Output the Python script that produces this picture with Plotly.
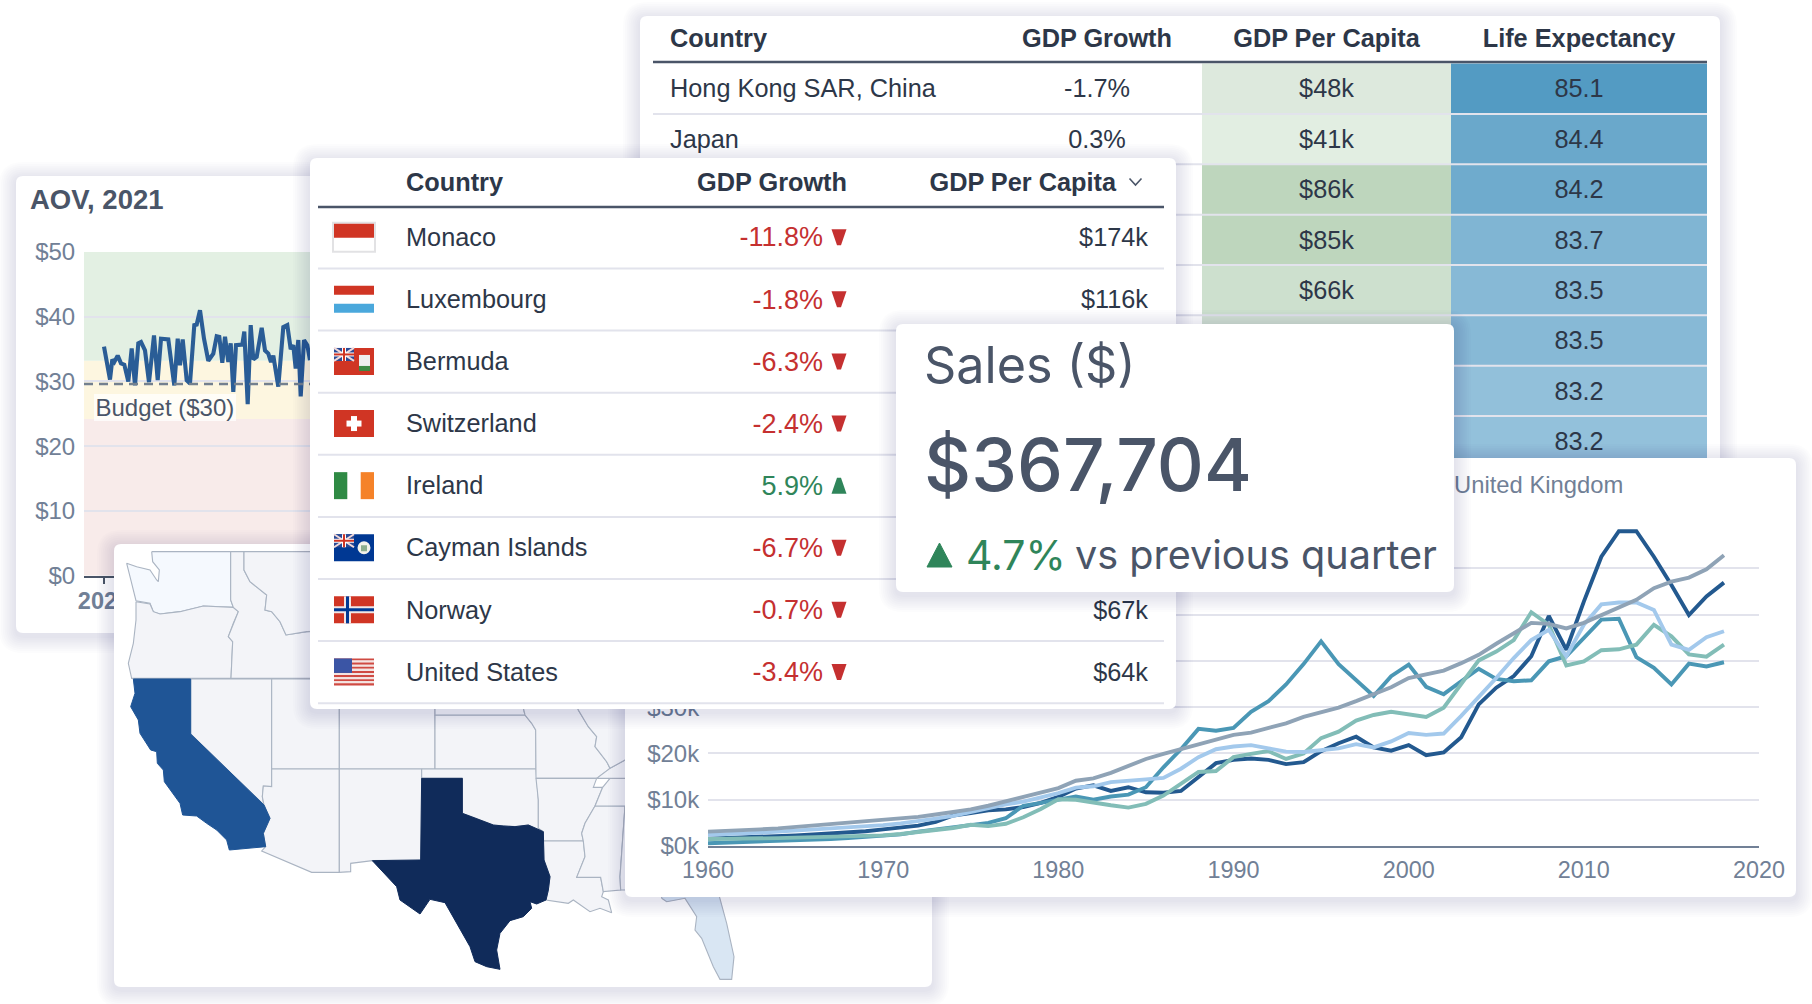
import plotly.graph_objects as go

W, H = 1812, 1004
SANS = "Liberation Sans"
INTER = "Inter"
INK = "#2d3748"
SLATE = "#4a5568"
MUTED = "#718096"
RULE = "#e2e3ec"
RED = "#c53030"
GREEN = "#2f855a"
TDY = 2.4
BODY = 25.3

# ---- AOV chart
aov_days = [0, 6, 8.3, 10.3, 13.7, 17, 20.3, 24.3, 27.7, 31, 34.3, 37, 41, 45, 50, 53.7, 57, 64.3, 70.3, 73.7, 76, 78.7,
            82.7, 86, 90.3, 92.7, 96, 100, 104.3, 109.3, 112.7, 115.3, 118.3, 121, 124.3, 126.7, 129.3, 132, 138.3,
            140.3, 143.7, 146.7, 149.3, 152.7, 157.7, 161, 164.3, 167, 169.3, 174.3, 179.3, 183.3, 186.7, 189.3,
            191.7, 194.3, 196.7, 200, 203.3, 206]
aov_values = [35.4, 30.3, 33.4, 33, 34, 32.8, 32.6, 30, 35.1, 29.4, 35.9, 36.1, 34.8, 29.9, 37.1, 30.2, 36.6, 36.5, 29.4,
              36.6, 32.5, 36.5, 30.2, 29.7, 38.7, 38.8, 41, 36.6, 33.2, 34.3, 37, 36.9, 32.9, 36.9, 33, 35.9, 28.4, 35.6,
              35.7, 37.7, 26.5, 38.7, 33.4, 33.8, 38.3, 34.8, 34.3, 33, 34, 29.2, 38.4, 38.7, 35, 35.6, 32, 36.4, 27.7,
              36.4, 35.6, 33.3]
aov_ticks = [0, 10, 20, 30, 40, 50]
aov_labels = ["$0", "$10", "$20", "$30", "$40", "$50"]
aov_budget_line = 29.6
aov_red_top = 24.2
aov_yellow_top = 33.2

# ---- Back table
back_names = ["Hong Kong SAR, China", "Japan"]
back_growth = ["-1.7%", "0.3%"]
back_capita = ["$48k", "$41k", "$86k", "$85k", "$66k", ""]
back_capita_fill = ["#dde9dd", "#e2eee2", "#bed6bd", "#bed6bd", "#cde0ce", "#d5e3d5"]
back_life = ["85.1", "84.4", "84.2", "83.7", "83.5", "83.5", "83.2", "83.2"]
back_life_fill = ["#539bc3", "#6aa8cb", "#6fabcd", "#80b5d3", "#87b9d6", "#87b9d6", "#92c0da", "#93c1db"]

# ---- Country table
countries = ["Monaco", "Luxembourg", "Bermuda", "Switzerland", "Ireland", "Cayman Islands", "Norway", "United States"]
growth = [-11.8, -1.8, -6.3, -2.4, 5.9, -6.7, -0.7, -3.4]
capita = ["$174k", "$116k", "", "", "", "", "$67k", "$64k"]

# ---- Line chart
years = list(range(1960, 2019))
s_dark = [1.6, 1.7, 1.9, 2.0, 2.2, 2.3, 2.5, 2.7, 2.9, 3.2, 3.6, 3.9, 4.4, 5.2, 6.6, 7.1, 7.7, 7.9, 8.4, 9.3, 10.6, 12.4,
          13.1, 11.9, 12.7, 11.6, 11.5, 11.9, 14.9, 17.9, 18.6, 18.9, 18.6, 17.7, 18.1, 20.5, 22.2, 23.6, 21.3, 20.6,
          21.8, 19.6, 20.2, 23.5, 30.6, 34.2, 36.7, 41, 49.7, 42.4, 52.8, 62.5, 68, 68, 62.5, 56.4, 49.9, 53.9, 56.9]
s_teal = [0.6, 0.7, 0.8, 0.9, 1.0, 1.1, 1.3, 1.5, 1.7, 1.9, 2.2, 2.5, 3.1, 3.6, 4.0, 4.6, 5.0, 6.0, 8.7, 9.3, 10, 10.7,
          10, 10.7, 11.1, 12.7, 17, 20.9, 25.3, 24.9, 25.5, 29, 31.3, 34.9, 39.3, 44.2, 39.3, 35.8, 32.4, 36.7, 39.2,
          34.4, 32.8, 35.6, 38.3, 36.1, 35.6, 35.8, 39.9, 41, 44.9, 48.9, 49.1, 40.8, 38.5, 34.9, 39.4, 38.8, 39.7]
s_sea = [1.5, 1.5, 1.6, 1.6, 1.7, 1.8, 1.9, 2, 2, 2.1, 2.3, 2.6, 3, 3.5, 3.9, 4.6, 4.3, 4.8, 6.2, 8, 10.1, 10, 9.3, 8.8,
         8.3, 9.1, 10.9, 13.4, 16, 16.2, 19.2, 19.9, 20.5, 18.8, 20, 23.3, 24.7, 27.1, 28.3, 29, 28.5, 27.9, 29.9, 34.9,
         40.1, 42, 44.5, 50.5, 47.8, 39, 39.9, 42.3, 42.5, 43.5, 47.8, 45.3, 41.4, 40.9, 43.5]
s_light = [2.4, 2.5, 2.7, 2.9, 3.1, 3.3, 3.6, 3.8, 4.0, 4.2, 4.5, 4.9, 5.3, 5.9, 6.5, 7.3, 8.3, 9.0, 9.6, 10.4, 11.4, 12.6,
           12.9, 13.8, 14.2, 14.4, 14.7, 16.7, 19.2, 20.9, 21.5, 21.8, 21.1, 20.4, 20.3, 20.8, 21.1, 22, 21.3, 22.6,
           24.4, 24, 24.3, 28.1, 32.1, 36.3, 40.6, 44.5, 46.7, 41, 47.8, 52.2, 52.6, 52.6, 51, 43.5, 42.4, 45.1, 46.4]
s_grey = [3.1, 3.2, 3.4, 3.6, 3.8, 4.1, 4.4, 4.6, 4.9, 5.2, 5.5, 5.8, 6.3, 6.8, 7.3, 7.9, 8.7, 9.6, 10.6, 11.6, 12.5, 14.1,
          14.6, 15.8, 17.2, 18.8, 19.9, 20.9, 22, 23, 24, 24.5, 25.6, 26.5, 27.9, 28.8, 29.9, 31.3, 32.8, 34.3, 36.3,
          37.2, 37.9, 39.5, 41.3, 43.7, 46, 48.2, 48, 47, 48.2, 49.9, 51.7, 53.2, 55.7, 57.1, 58, 59.8, 62.8]
line_series = [("Series A", s_dark, "#23598f"), ("Series B", s_teal, "#4a97b5"), ("Series C", s_sea, "#82bdb7"),
               ("Series D", s_light, "#a3c9ec"), ("United Kingdom", s_grey, "#8fa3b6")]
gdp_ticks = [0, 10, 20, 30, 40, 50, 60, 70]
gdp_labels = ["$0k", "$10k", "$20k", "$30k", "$40k", "$50k", "$60k", "$70k"]
gdp_year_ticks = [1960, 1970, 1980, 1990, 2000, 2010, 2020]

# ---- Map outlines
map_west = {
    "Washington": [(155, 65), (392, 65), (392, 210), (400, 232), (310, 228), (240, 245), (180, 252), (160, 245), (150, 220),
                   (120, 215), (108, 212), (90, 140), (80, 100), (110, 110), (150, 120), (170, 150), (175, 155), (178, 120),
                   (158, 95)],
    "Oregon": [(108, 215), (150, 222), (160, 245), (180, 252), (240, 245), (310, 228), (400, 232), (415, 245), (400, 280),
               (385, 320), (398, 335), (393, 445), (95, 445), (85, 400), (100, 340), (108, 270)],
    "Idaho": [(392, 65), (432, 65), (432, 120), (450, 155), (500, 195), (495, 240), (515, 245), (540, 275), (558, 315),
              (620, 305), (700, 300), (700, 445), (393, 445), (398, 335), (385, 320), (400, 280), (415, 245), (400, 232),
              (392, 210)],
    "Montana": [(432, 65), (780, 65), (780, 300), (620, 305), (558, 315), (540, 275), (515, 245), (495, 240), (500, 195),
                (450, 155), (432, 120)],
    "Nevada": [(272, 447), (515, 447), (515, 770), (490, 768), (487, 800), (492, 825), (272, 612)],
    "Utah": [(515, 447), (718, 447), (718, 717), (515, 717)],
    "Arizona": [(515, 717), (718, 717), (718, 1027), (635, 1027), (485, 963), (497, 950), (490, 910), (510, 865), (492, 825),
                (487, 800), (490, 768), (515, 770)],
}
map_california = [(100, 447), (272, 447), (272, 612), (492, 825), (510, 865), (490, 910), (497, 950), (388, 960), (380, 930),
                  (350, 900), (320, 880), (290, 858), (248, 855), (240, 820), (193, 755), (190, 720), (172, 700), (170, 665),
                  (152, 660), (120, 610), (115, 570), (92, 530), (105, 490)]
map_south = {
    "Colorado": [(28, -60), (315, -60), (315, 207), (28, 207)],
    "NewMexico": [(28, 207), (275, 207), (273, 480), (127, 482), (62, 490), (62, 515), (28, 517)],
    "Kansas": [(315, 45), (585, 45), (605, 70), (617, 90), (618, 207), (315, 207)],
    "Nebraska": [(315, -60), (560, -60), (585, 45), (315, 45)],
    "Oklahoma": [(275, 207), (618, 207), (625, 300), (625, 385), (640, 395), (595, 375), (555, 380), (520, 378), (490, 375),
                 (430, 352), (397, 340), (397, 235), (275, 235)],
    "Missouri": [(560, -60), (720, -60), (745, 30), (775, 80), (800, 110), (795, 140), (830, 185), (840, 205), (800, 235),
                 (618, 235), (617, 90), (605, 70), (585, 45)],
    "Arkansas": [(618, 235), (800, 235), (790, 262), (818, 262), (795, 318), (765, 370), (755, 400), (760, 423), (640, 423),
                 (640, 395), (625, 385), (625, 300)],
    "Louisiana": [(640, 423), (760, 423), (765, 470), (740, 532), (812, 532), (820, 575), (815, 590), (835, 600), (845, 638),
                  (810, 625), (780, 635), (730, 600), (715, 610), (660, 600), (648, 600), (655, 570), (660, 530), (642, 480)],
    "Mississippi": [(795, 318), (885, 318), (870, 530), (872, 570), (820, 575), (812, 532), (740, 532), (765, 470), (760, 423),
                    (755, 400), (765, 370)],
    "Tennessee": [(840, 235), (950, 235), (950, 318), (795, 318), (818, 262)],
    "Kentucky": [(840, 205), (885, 180), (950, 150), (950, 235), (800, 235)],
    "Illinois": [(720, -60), (950, -60), (950, 150), (885, 180), (840, 205), (830, 185), (795, 140), (800, 110), (775, 80),
                 (745, 30)],
    "Alabama": [(885, 318), (950, 318), (950, 570), (872, 570), (870, 530)],
}
map_texas = [(275, 235), (397, 235), (397, 340), (430, 352), (490, 375), (520, 378), (555, 380), (595, 375), (640, 395),
             (642, 480), (660, 530), (655, 570), (648, 600), (620, 612), (600, 605), (605, 625), (580, 650), (540, 662),
             (530, 675), (510, 700), (500, 750), (510, 808), (470, 800), (435, 785), (420, 740), (395, 695), (370, 650),
             (345, 608), (300, 598), (270, 642), (210, 600), (200, 560), (127, 482), (272, 480)]
map_florida = [(995, 595), (1010, 605), (1065, 595), (1100, 650), (1095, 690), (1115, 715), (1150, 800), (1170, 838),
               (1205, 838), (1212, 770), (1190, 670), (1160, 560), (995, 560)]

fig = go.Figure()
shapes = []


def rounded(L, T, R, B, r):
    return (f"M {L+r} {T} L {R-r} {T} Q {R} {T} {R} {T+r} L {R} {B-r} Q {R} {B} {R-r} {B} "
            f"L {L+r} {B} Q {L} {B} {L} {B-r} L {L} {T+r} Q {L} {T} {L+r} {T} Z")


layout_axes = {}


def axkey(prefix, n):
    return f"{prefix}axis{'' if n == 1 else n}"


def ref(prefix, n):
    return f"{prefix}{'' if n == 1 else n}"


def panel(n, L, T, R, B, pad=24, r=7):
    l0, t0, r0, b0 = max(0, L - pad), max(0, T - pad), min(W, R + pad), min(H, B + pad)
    layout_axes[axkey("x", n)] = dict(domain=[l0 / W, r0 / W], range=[l0, r0], visible=False, fixedrange=True,
                                      anchor=ref("y", n), automargin=False)
    layout_axes[axkey("y", n)] = dict(domain=[1 - b0 / H, 1 - t0 / H], range=[b0, t0], visible=False, fixedrange=True,
                                      anchor=ref("x", n), automargin=False)
    xr, yr = ref("x", n), ref("y", n)
    steps = 9
    for i in range(steps):
        e = (steps - i) * 1.9
        shapes.append(dict(type="path", path=rounded(L - e, T - e + 3, R + e, B + e + 3, r + e), xref=xr, yref=yr,
                           layer="below", fillcolor="rgba(20,30,50,0.013)", line_width=0))
    shapes.append(dict(type="path", path=rounded(L, T, R, B, r), xref=xr, yref=yr, layer="below",
                       fillcolor="white", line_width=0))


def rect(n, x0, y0, x1, y1, color):
    shapes.append(dict(type="rect", x0=x0, y0=y0, x1=x1, y1=y1, xref=ref("x", n), yref=ref("y", n), layer="below",
                       fillcolor=color, line_width=0))


def hline(n, x0, x1, y, color=RULE, w=2):
    shapes.append(dict(type="line", x0=x0, x1=x1, y0=y, y1=y, xref=ref("x", n), yref=ref("y", n), layer="below",
                       line=dict(color=color, width=w)))


def seg(n, x0, y0, x1, y1, color, w):
    shapes.append(dict(type="line", x0=x0, x1=x1, y0=y0, y1=y1, xref=ref("x", n), yref=ref("y", n), layer="below",
                       line=dict(color=color, width=w)))


def txt(n, xs, ys, texts, size, color, pos="middle right", weight=None, family=SANS):
    font = dict(size=size, color=color, family=family)
    if weight:
        font["weight"] = weight
    fig.add_trace(go.Scatter(x=xs, y=ys, text=texts, mode="text", textposition=pos, textfont=font,
                             xaxis=ref("x", n), yaxis=ref("y", n), hoverinfo="skip", showlegend=False,
                             cliponaxis=False))


# ---------- 1/2: AOV
panel(1, 16, 176, 360, 633)
txt(1, [30], [202.5], ["AOV, 2021"], 27.5, SLATE, weight="bold")
AOV_LEFT, AOV_RIGHT, AOV_TOP, AOV_BOTTOM = 84, 640, 252, 575.7
layout_axes["xaxis2"] = dict(domain=[AOV_LEFT / W, AOV_RIGHT / W], range=[-20, 536], anchor="y2", tickvals=[0],
                             ticktext=["<b>2021</b>"], ticks="outside", ticklen=6, tickwidth=1.5, tickcolor=SLATE,
                             showgrid=False, zeroline=False, showline=True, linecolor=SLATE, linewidth=2, ticklabelstandoff=-3,
                             tickfont=dict(size=23.5, color=MUTED, family=SANS), fixedrange=True, automargin=False)
layout_axes["yaxis2"] = dict(domain=[1 - AOV_BOTTOM / H, 1 - AOV_TOP / H], range=[0, 50], anchor="x2", tickvals=aov_ticks,
                             ticktext=aov_labels, ticks="outside", ticklen=3, tickcolor="rgba(0,0,0,0)", gridcolor=RULE,
                             gridwidth=2, zeroline=False, showline=False, automargin=False,
                             tickfont=dict(size=24, color=MUTED, family=SANS), fixedrange=True)
for lo, hi, col in [(0, aov_red_top, "#f8ebea"), (aov_red_top, aov_yellow_top, "#fdf6e0"), (aov_yellow_top, 50, "#e3f0e3")]:
    shapes.append(dict(type="rect", x0=-20, x1=536, y0=lo, y1=hi, xref="x2", yref="y2", layer="below", fillcolor=col,
                       line_width=0))
fig.add_trace(go.Scatter(x=aov_days, y=aov_values, mode="lines", line=dict(color="#2a5d96", width=4.1), xaxis="x2",
                         yaxis="y2", showlegend=False, name="AOV"))
fig.add_trace(go.Scatter(x=[-20, 536], y=[aov_budget_line, aov_budget_line], mode="lines",
                         line=dict(color="#73808f", width=2.6, dash="9px,6px"), xaxis="x2", yaxis="y2", showlegend=False,
                         name="Budget"))
bud_y = [(AOV_BOTTOM - 394) / 6.474, (AOV_BOTTOM - 421) / 6.474]
fig.add_trace(go.Scatter(x=[94 - 104, 236 - 104, 236 - 104, 94 - 104, 94 - 104], y=[bud_y[0], bud_y[0], bud_y[1], bud_y[1], bud_y[0]],
                         mode="lines", fill="toself", fillcolor="rgba(255,255,255,0.72)", line_width=0, xaxis="x2", yaxis="y2",
                         showlegend=False, hoverinfo="skip"))
txt(2, [-8.5], [(AOV_BOTTOM - 410.3) / 6.474], ["Budget ($30)"], 24, SLATE)

# ---------- 3: map
panel(3, 114, 544, 932, 987)


def poly(points, fill, dx, dy, stroke="#aab4c2", w=1.1):
    xs = [(p + dx) / 3 + 330 for p, q in points] + [(points[0][0] + dx) / 3 + 330]
    ys = [(q + dy) / 3 + 700 for p, q in points] + [(points[0][1] + dy) / 3 + 700]
    fig.add_trace(go.Scatter(x=xs, y=ys, mode="lines", fill="toself", fillcolor=fill, line=dict(color=stroke, width=w),
                             xaxis="x3", yaxis="y3", showlegend=False, hoverinfo="skip"))


for name, pts in map_west.items():
    poly(pts, "#f5f9fe" if name == "Washington" else "#f3f4f8", -690, -510)
for name, pts in map_south.items():
    poly(pts, "#f3f4f8", 0, 0)
poly(map_california, "#1f5596", -690, -510, stroke="#1f5596", w=1)
poly(map_texas, "#102b5a", 0, 0, stroke="#102b5a", w=1)
poly(map_florida, "#d9e6f3", 0, 0)

# ---------- 4: back table
panel(4, 640, 16, 1720, 520)
ROW0, ROWH = 63.6, 50.35
for i, col in enumerate(back_capita_fill):
    rect(4, 1202, ROW0 + i * ROWH, 1451, ROW0 + (i + 1) * ROWH, col)
for i, col in enumerate(back_life_fill):
    rect(4, 1451, ROW0 + i * ROWH, 1707, ROW0 + (i + 1) * ROWH, col)
hline(4, 653, 1707, 62, SLATE, 2.4)
for i in range(1, 8):
    hline(4, 653, 1707, ROW0 + i * ROWH, RULE, 2)
txt(4, [670], [38.5 + TDY], ["Country"], BODY, INK, weight="bold")
txt(4, [1097, 1326.5, 1579], [38.5 + TDY] * 3, ["GDP Growth", "GDP Per Capita", "Life Expectancy"], BODY, INK, "middle center",
    weight="bold")
row_y = [ROW0 + (i + 0.5) * ROWH + TDY for i in range(8)]
txt(4, [670] * 2, row_y[:2], back_names, BODY, INK)
txt(4, [1097] * 2, row_y[:2], back_growth, BODY, INK, "middle center")
txt(4, [1326.5] * 5, row_y[:5], back_capita[:5], BODY, INK, "middle center")
txt(4, [1579] * 8, row_y, back_life, BODY, INK, "middle center")

# ---------- 5/6: line chart
panel(5, 625, 458, 1796, 897)
txt(5, [1454], [487.3], ["United Kingdom"], 23.8, MUTED)
layout_axes["xaxis6"] = dict(domain=[708 / W, 1759 / W], range=[1960, 2020], anchor="y6", tickvals=gdp_year_ticks,
                             ticks="outside", ticklen=2, tickcolor="rgba(0,0,0,0)", showgrid=False, zeroline=False,
                             showline=True, linecolor=MUTED, linewidth=2, tickfont=dict(size=23.4, color=MUTED, family=SANS),
                             fixedrange=True, automargin=False)
layout_axes["yaxis6"] = dict(domain=[1 - 846 / H, 1 - 522 / H], range=[0, 70], anchor="x6", tickvals=gdp_ticks,
                             ticktext=gdp_labels, ticks="outside", ticklen=3, tickcolor="rgba(0,0,0,0)", gridcolor=RULE,
                             gridwidth=2, zeroline=False, tickfont=dict(size=24, color=MUTED, family=SANS), fixedrange=True,
                             automargin=False)
for name, vals, col in line_series:
    fig.add_trace(go.Scatter(x=years, y=vals, mode="lines", name=name, line=dict(color=col, width=3.9), xaxis="x6",
                             yaxis="y6", showlegend=False))

# ---------- 7: country table
panel(7, 310, 158, 1176, 709)
hline(7, 318, 1164, 207, SLATE, 2.4)
T_ROW0, T_ROWH = 207, 62.1
for i in range(1, 9):
    hline(7, 318, 1164, T_ROW0 + i * T_ROWH - 0.6, RULE, 2)
t_y = [T_ROW0 + (i + 0.5) * T_ROWH - 0.8 for i in range(8)]
t_text = [v + TDY for v in t_y]
txt(7, [406], [182 + TDY], ["Country"], BODY, INK, weight="bold")
txt(7, [847, 1116], [182 + TDY] * 2, ["GDP Growth", "GDP Per Capita"], BODY, INK, "middle left", weight="bold")
txt(7, [406] * 8, t_text, countries, BODY, INK)
txt(7, [823] * 8, t_text, [f"{v:.1f}%" for v in growth], 27, [RED if v < 0 else GREEN for v in growth], "middle left")
keep = [i for i, c in enumerate(capita) if c]
txt(7, [1148] * len(keep), [t_text[i] for i in keep], [capita[i] for i in keep], BODY, INK, "middle left")
for v, yy in zip(growth, t_y):
    if v < 0:
        p = f"M 831.5 {yy-8} L 846.5 {yy-8} L 841 {yy+8} L 837 {yy+8} Z"
    else:
        p = f"M 837 {yy-8} L 841 {yy-8} L 846.5 {yy+8} L 831.5 {yy+8} Z"
    shapes.append(dict(type="path", path=p, xref="x7", yref="y7", layer="below", fillcolor=RED if v < 0 else GREEN,
                       line_width=0))
shapes.append(dict(type="path", path="M 1129.5 178.5 L 1135.5 185 L 1141.5 178.5", xref="x7", yref="y7", layer="below",
                   line=dict(color=SLATE, width=1.6)))

FR, FB, FL, FG, FO = "#d03524", "#003893", "#4aa8dc", "#2f8a44", "#f58229"


def jack(x, y):
    rect(7, x, y, x + 20, y + 13, "#2a4a95")
    seg(7, x, y, x + 20, y + 13, "#f2d9d9", 2)
    seg(7, x + 20, y, x, y + 13, "#f2d9d9", 2)
    rect(7, x + 8, y, x + 12, y + 13, "white")
    rect(7, x, y + 4.5, x + 20, y + 8.5, "white")
    rect(7, x + 9, y, x + 11, y + 13, FR)
    rect(7, x, y + 5.5, x + 20, y + 7.5, FR)


def flag(i, name):
    x, y = 334, t_y[i] - 13.5
    w, h = 40, 27
    if name == "Monaco":
        rect(7, x - 2, y - 2, x + w + 2, y + h + 2, "#e2e2e4")
        rect(7, x, y, x + w, y + h, "white")
        rect(7, x, y, x + w, y + 14, FR)
    elif name == "Luxembourg":
        rect(7, x, y, x + w, y + 9, FR)
        rect(7, x, y + 18, x + w, y + h, FL)
    elif name == "Bermuda":
        rect(7, x, y, x + w, y + h, FR)
        jack(x, y)
        rect(7, x + 25, y + 7, x + 36, y + 19, "#eeeeee")
        rect(7, x + 25, y + 18, x + 36, y + 23, "#3d8a45")
    elif name == "Switzerland":
        rect(7, x, y, x + w, y + h, FR)
        rect(7, x + 17, y + 6, x + 23, y + 21, "white")
        rect(7, x + 12.5, y + 10.5, x + 27.5, y + 16.5, "white")
    elif name == "Ireland":
        rect(7, x, y, x + 13.3, y + h, FG)
        rect(7, x + 26.7, y, x + w, y + h, FO)
    elif name == "Cayman Islands":
        rect(7, x, y, x + w, y + h, FB)
        jack(x, y)
        shapes.append(dict(type="circle", x0=x + 23.5, x1=x + 36.5, y0=y + 7, y1=y + 20, xref="x7", yref="y7",
                           layer="below", fillcolor="#f2f2ea", line_width=0))
        rect(7, x + 27, y + 11, x + 33, y + 17, "#8cae8e")
    elif name == "Norway":
        rect(7, x, y, x + w, y + h, FR)
        rect(7, x + 10, y, x + 17, y + h, "#f0e6e6")
        rect(7, x, y + 10, x + w, y + 17, "#f0e6e6")
        rect(7, x + 12, y, x + 15, y + h, FB)
        rect(7, x, y + 12, x + w, y + 15, FB)
    elif name == "United States":
        for k in range(7):
            rect(7, x, y + k * 4.15, x + w, y + k * 4.15 + 2.08, "#cf4a42")
            if k < 6:
                rect(7, x, y + k * 4.15 + 2.08, x + w, y + k * 4.15 + 4.15, "#f3e4e2")
        rect(7, x, y, x + 18, y + 14.5, "#3b55a5")


for i, c in enumerate(countries):
    flag(i, c)

# ---------- 8: sales card
panel(8, 896, 324, 1454, 592)
txt(8, [924], [370.5], ["Sales ($)"], 50.3, SLATE, family=INTER)
txt(8, [924], [473], ["$367,704"], 73, SLATE, family=INTER, weight=500)
fig.add_trace(go.Scatter(x=[927, 952, 939.5, 927], y=[567, 567, 543, 567], mode="lines", fill="toself", fillcolor=GREEN,
                         line=dict(color=GREEN, width=1), xaxis="x8", yaxis="y8", showlegend=False, hoverinfo="skip"))
txt(8, [966], [559.3], ["4.7%"], 41, GREEN, family=INTER)
txt(8, [1075], [559.3], ["vs previous quarter"], 39.6, SLATE, family=INTER)

fig.update_layout(template="none", width=W, height=H, margin=dict(l=0, r=0, t=0, b=0, pad=0), paper_bgcolor="white",
                  plot_bgcolor="rgba(0,0,0,0)", showlegend=False, shapes=shapes, hovermode=False, **layout_axes)
fig.write_html("out.html", config={"displayModeBar": False}, post_script="document.body.style.margin='0';")
